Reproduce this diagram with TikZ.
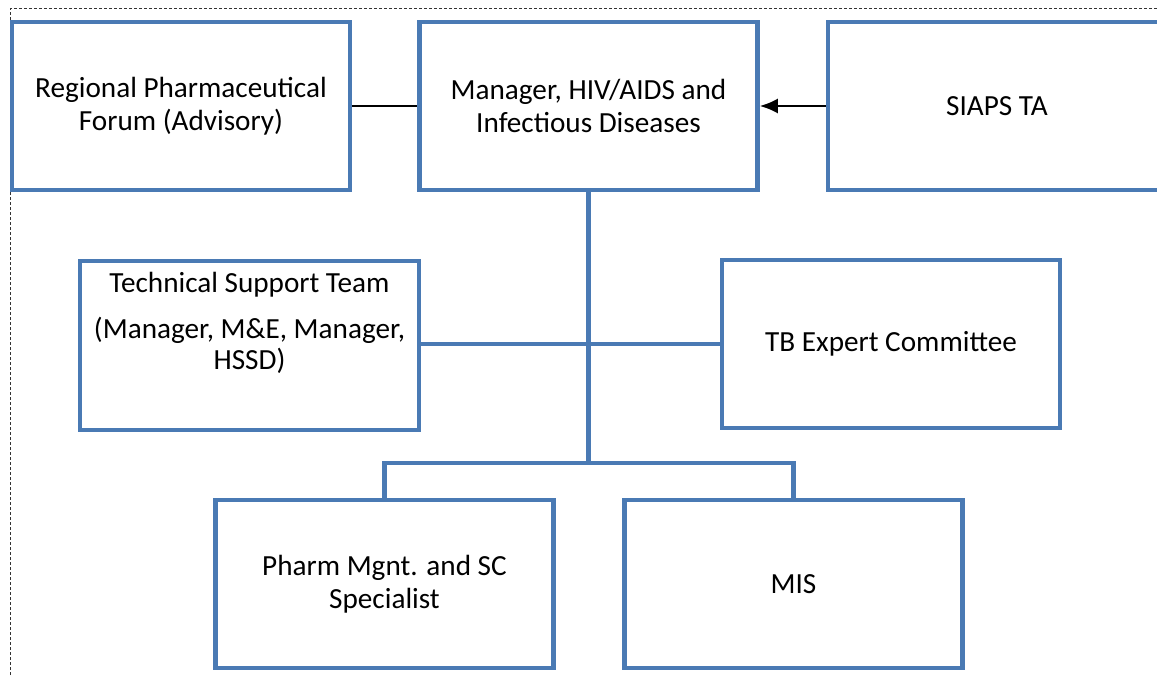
\documentclass[tikz,border=0pt]{standalone}
\usepackage{fontspec}
\setmainfont{Carlito}
\usetikzlibrary{arrows.meta}
\definecolor{boxblue}{RGB}{74,122,180}
\tikzset{
  orgbox/.style={draw=boxblue, line width=4.6pt, fill=white, inner sep=0pt,
    minimum width=338pt, minimum height=168pt, align=center,
    font=\fontsize{29.2}{33}\selectfont},
  blueline/.style={draw=boxblue, line width=4.6pt, line join=miter},
  thinline/.style={draw=black, line width=2pt},
  arrline/.style={draw=black, line width=2.2pt, -{Latex[length=18pt,width=15pt]}},
  border/.style={draw=black!80, line width=1pt, dash pattern=on 3pt off 2pt}
}
\begin{document}
\begin{tikzpicture}[x=1pt,y=-1pt]
\useasboundingbox (0,0) rectangle (1157,677);
\clip (0,0) rectangle (1157,677);
\draw[border] (10,690) -- (10,9) -- (1170,9);

\node[orgbox] (rpf) at (181,106) {Regional Pharmaceutical\\Forum (Advisory)};
\node[orgbox] (mgr) at (588.5,106) {Manager, HIV/AIDS and\\Infectious Diseases};
\node[orgbox] (siaps) at (997,106) {SIAPS TA};
\node[orgbox, minimum width=339pt, minimum height=169pt] (tst) at (249.5,345.5)
  {\parbox[c][169pt][t]{330pt}{\centering\fontsize{29.2}{31}\selectfont
   \rule{0pt}{31pt}Technical Support Team\\[15pt]
   (Manager, M\&E, Manager,\\HSSD)}};
\node[orgbox] (tb) at (891,344) {TB Expert Committee};
\node[orgbox] (pharm) at (384.5,584) {Pharm Mgnt. and SC\\Specialist};
\node[orgbox] (mis) at (793.5,584) {MIS};

\coordinate (busc) at (588.5,463);

\draw[thinline] (rpf.east) -- (mgr.west);
\draw[arrline] (siaps.west) -- (mgr.east);
\draw[blueline] (mgr.south) -- (busc);
\draw[blueline] (tst.east |- tb.west) -- (tb.west);
\draw[blueline] (pharm.north) |- (busc) -| (mis.north);
\end{tikzpicture}
\end{document}
